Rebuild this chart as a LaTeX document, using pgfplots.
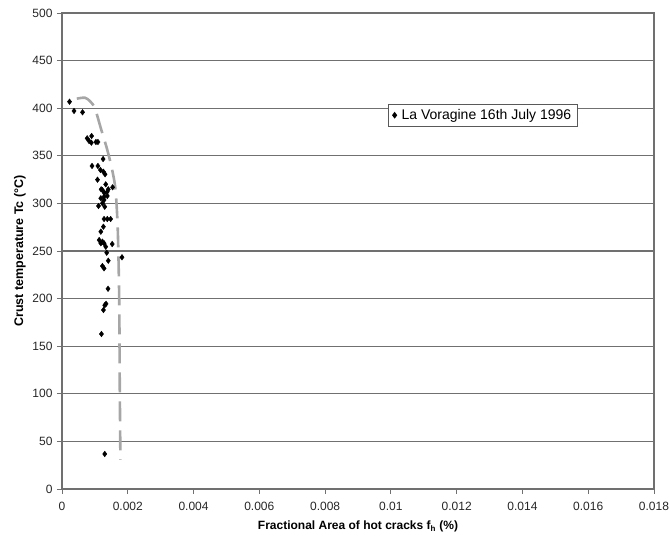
\documentclass[border=0pt]{standalone}
\usepackage{fontspec}
\setmainfont{Liberation Sans}
\usepackage{pgfplots}
\pgfplotsset{compat=1.18}
\definecolor{gridc}{HTML}{707070}
\definecolor{dashc}{HTML}{A6A6A6}
\begin{document}
\begin{tikzpicture}
\begin{axis}[
  name=ax,
  scale only axis,
  width=592pt, height=476pt,
  xmin=0, xmax=0.018, ymin=0, ymax=500,
  xtick={0,0.002,...,0.018},
  ytick={0,50,...,500},
  scaled x ticks=false,
  /pgf/number format/assume math mode=true,
  xticklabel style={/pgf/number format/fixed,/pgf/number format/precision=3,font=\fontsize{12}{14}\selectfont, text=black!85, yshift=-5pt},
  yticklabel style={font=\fontsize{12}{14}\selectfont, text=black!85, xshift=-1pt},
  tick align=outside, tick pos=left,
  major tick length=5pt,
  tick style={gridc, line width=0.8pt},
  ymajorgrids, xmajorgrids=false,
  major grid style={gridc, line width=1.3pt},
  axis line style={gridc, line width=1.3pt},
  xlabel={\textbf{Fractional Area of hot cracks f\textsubscript{h} (\%)}},
  ylabel={\textbf{Crust temperature Tc (°C)}},
  xlabel style={at={(axis description cs:0.5,-0.078)}, anchor=center, font=\fontsize{12}{14}\selectfont},
  ylabel style={at={(axis description cs:-0.071,0.5)}, anchor=center, rotate=0, font=\fontsize{12.5}{14}\selectfont},
  legend style={at={(axis description cs:0.551,0.809)}, anchor=north west,
    draw=black!65, line width=1pt, fill=white, font=\fontsize{14}{16}\selectfont,
    inner xsep=4pt, inner ysep=3pt, row sep=1pt,
    /tikz/every odd column/.append style={column sep=3pt}},
  legend cell align=left,
  legend image code/.code={\draw[mark=diamond*, mark size=2.6pt, mark options={fill=black}] plot coordinates {(0.12cm,0cm)};},
]
\addplot[dashc, line width=2.6pt, dash pattern=on 20pt off 9pt, smooth, forget plot] coordinates {
(0.000450,410) (0.000700,411) (0.000860,407) (0.001000,400)
(0.001181,378.9) (0.001378,356.1) (0.001526,335.1) (0.001627,314.1)
(0.001696,272) (0.001740,198.5) (0.001755,114.5) (0.001776,30.5)
};
\addplot[only marks, mark=diamond*, mark size=2.8pt, black] coordinates {
(0.000229,406.8) (0.000366,397.1) (0.000625,395.7)
(0.000765,368.4) (0.000901,370.8) (0.000824,365.5) (0.000893,363.8) (0.001032,364.5) (0.001092,364.5)
(0.001250,346.6) (0.000913,339.3) (0.001092,339.3) (0.001169,335.1) (0.001259,333.3) (0.001309,330.6)
(0.001080,324.9) (0.001190,314.8) (0.001407,314.8) (0.001538,316.9) (0.001288,310.9) (0.001279,307.0)
(0.001330,320.0) (0.001229,314.0) (0.001377,312.3) (0.001377,307.8) (0.001181,305.4) (0.001279,303.6)
(0.001229,300.1) (0.001110,297.3) (0.001300,296.5)
(0.001279,283.6) (0.001377,283.6) (0.001479,283.6)
(0.001259,275.5) (0.001181,270.3) (0.001130,261.5) (0.001229,259.8) (0.001181,258.1) (0.001279,258.1)
(0.001330,254.5) (0.001526,257.3) (0.001360,248.2) (0.001824,243.4) (0.001407,239.8)
(0.001229,234.2) (0.001279,231.8) (0.001400,210.3)
(0.001300,193.0) (0.001260,188.0) (0.001340,194.5)
(0.001199,162.8) (0.001300,36.8)
};
\addlegendentry{La Voragine 16th July 1996}
\end{axis}
\pgfresetboundingbox
\path[use as bounding box] ([shift={(-62pt,-51pt)}]ax.south west) rectangle ([shift={(16pt,13pt)}]ax.north east);
\end{tikzpicture}
\end{document}
